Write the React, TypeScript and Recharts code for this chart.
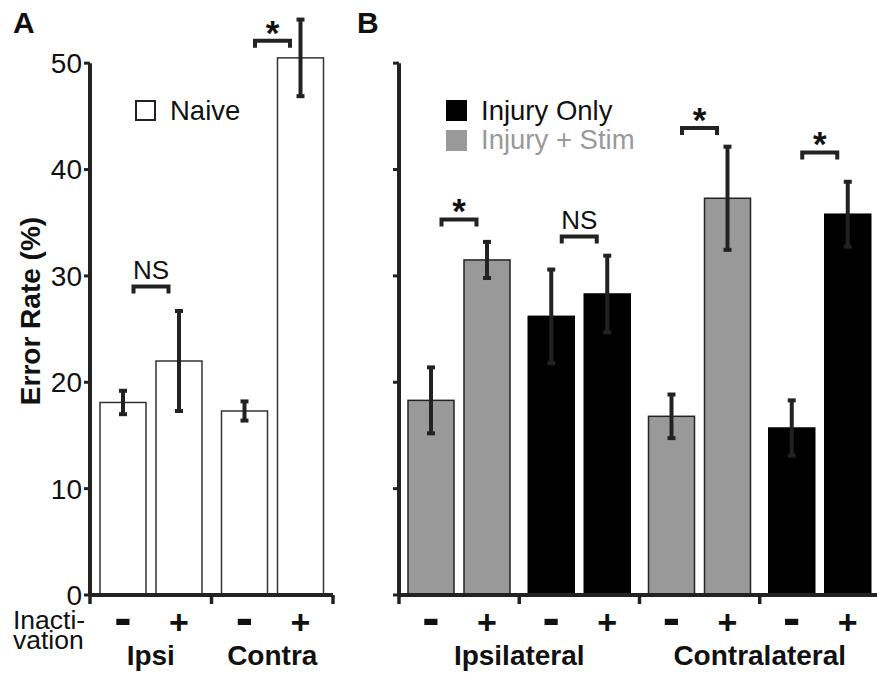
import React from "react";
import { BarChart, Bar, XAxis, YAxis, ErrorBar, ReferenceLine, Legend } from "recharts";

// ---------- data ----------
// Panel A (naive animals)
const groupsA = ["Ipsi", "Contra"];
const conditionA = ["naive", "naive"];
const minusA = [18.1, 17.3];
const minusErrA = [1.1, 0.9];
const plusA = [22.0, 50.5];
const plusErrA = [4.7, 3.6];
const sigA = ["NS", "*"];
const sigLevelA = [29.2, 52.3];
const sidesA = ["Ipsi", "Contra"];

// Panel B (injured animals)
const groupsB = ["Ipsi Stim", "Ipsi Only", "Contra Stim", "Contra Only"];
const conditionB = ["stim", "only", "stim", "only"];
const minusB = [18.3, 26.2, 16.8, 15.7];
const minusErrB = [3.1, 4.4, 2.05, 2.6];
const plusB = [31.5, 28.3, 37.3, 35.8];
const plusErrB = [1.7, 3.6, 4.85, 3.05];
const sigB = ["*", "NS", "*", "*"];
const sigLevelB = [35.5, 33.9, 44.1, 41.8];
const sidesB = ["Ipsilateral", "Contralateral"];

const inactivationSigns = ["-", "+"];
const yTicks = [0, 10, 20, 30, 40, 50];
const legendA = [{ label: "Naive", condition: "naive" }];
const legendB = [
  { label: "Injury Only", condition: "only" },
  { label: "Injury + Stim", condition: "stim" },
];

// ---------- styles ----------
const FONT = '"Liberation Sans", Arial, Helvetica, sans-serif';
const INK = "#222222";
const TEXT = "#111111";
const BAR_GAP = 10;
const BAR_SIZE = 46;

const conditionStyle: Record<string, any> = {
  naive: { fill: "#ffffff", stroke: "#333333", text: TEXT, legendBorder: true },
  only: { fill: "#000000", stroke: "#000000", text: TEXT, legendBorder: false },
  stim: { fill: "#999999", stroke: "#222222", text: "#999999", legendBorder: false },
};

function buildRows(groups, conditions, minus, minusErr, plus, plusErr, sig, sigLevel) {
  return groups.map((g, i) => ({
    group: g,
    pos: i + 0.5,
    condition: conditions[i],
    minus: minus[i],
    minusErr: minusErr[i],
    plus: plus[i],
    plusErr: plusErr[i],
    sig: sig[i],
    sigLevel: sigLevel[i],
  }));
}

const rowsA = buildRows(groupsA, conditionA, minusA, minusErrA, plusA, plusErrA, sigA, sigLevelA);
const rowsB = buildRows(groupsB, conditionB, minusB, minusErrB, plusB, plusErrB, sigB, sigLevelB);

function makeBarShape(valueKey: string, signIndex: number, drawSig: boolean) {
  return function BarShape(props: any) {
    const { x, y, width, height, payload } = props;
    if (x == null || payload == null) return null;
    const st = conditionStyle[payload.condition];
    const base = y + height;
    const value = payload[valueKey];
    const ppu = value ? height / value : 0;
    const cx = x + width / 2;
    const sign = inactivationSigns[signIndex];
    const signStyle = signIndex === 0 ? { fontSize: 52, dy: 40 } : { fontSize: 34, dy: 39 };
    let sigNode = null;
    if (drawSig) {
      const gx = x - BAR_GAP / 2;
      const half = 17.5;
      const top = base - payload.sigLevel * ppu;
      sigNode = (
        <g>
          <path
            d={`M${gx - half},${top + 9} L${gx - half},${top + 2} L${gx + half},${top + 2} L${gx + half},${top + 9}`}
            stroke={INK}
            strokeWidth={4}
            fill="none"
          />
          {payload.sig === "*" ? (
            <text x={gx} y={top + 6} textAnchor="middle" fontFamily={FONT} fontWeight="bold" fontSize={35} fill={TEXT}>
              *
            </text>
          ) : (
            <text x={gx} y={top - 5} textAnchor="middle" fontFamily={FONT} fontSize={26} fill={TEXT}>
              {payload.sig}
            </text>
          )}
        </g>
      );
    }
    return (
      <g>
        <rect x={x} y={y} width={width} height={height} fill={st.fill} stroke={st.stroke} strokeWidth={1.5} />
        <text x={cx} y={base + signStyle.dy} textAnchor="middle" fontFamily={FONT} fontWeight="bold" fontSize={signStyle.fontSize} fill={TEXT}>
          {sign}
        </text>
        {sigNode}
      </g>
    );
  };
}

function LegendBox({ items }: { items: any[] }) {
  return (
    <div style={{ fontFamily: FONT, fontSize: 27.5 }}>
      {items.map((it) => {
        const st = conditionStyle[it.condition];
        return (
          <div key={it.label} style={{ display: "flex", alignItems: "center", height: 29.5 }}>
            <span
              style={{
                display: "inline-block",
                width: 21,
                height: 21,
                boxSizing: "border-box",
                background: st.fill,
                border: st.legendBorder ? `2px solid ${INK}` : "none",
                marginRight: 14,
                flex: "none",
              }}
            />
            <span style={{ color: st.text, whiteSpace: "nowrap", lineHeight: "30px" }}>{it.label}</span>
          </div>
        );
      })}
    </div>
  );
}

const EmptyTick = () => <g />;

function Panel(props: any) {
  const { letter, letterX, rows, sides, groupsPerSide, legend, legendLeft, showTickLabels, showYLabel, width, marginLeft, marginRight } = props;
  const nGroups = rows.length;
  const tickSet = new Set<number>();
  for (let i = 0; i <= nGroups; i++) tickSet.add(i);
  sides.forEach((_, i) => tickSet.add((i + 0.5) * groupsPerSide));
  const numTicks = Array.from(tickSet).sort((a, b) => a - b);

  const SideTick = (tp: any) => {
    const { x, y, payload } = tp;
    const v = payload.value;
    const boundary = Math.abs(v - Math.round(v)) < 1e-9;
    const k = v / groupsPerSide - 0.5;
    const sideIdx = Math.abs(k - Math.round(k)) < 1e-9 ? Math.round(k) : -1;
    return (
      <g>
        {boundary && <line x1={x} y1={y} x2={x} y2={y + 9} stroke={INK} strokeWidth={3.5} />}
        {sideIdx >= 0 && sideIdx < sides.length && (
          <text x={x} y={y + 70} textAnchor="middle" fontFamily={FONT} fontWeight="bold" fontSize={28} fill={TEXT}>
            {sides[sideIdx]}
          </text>
        )}
      </g>
    );
  };

  const yLabel = () => (
    <g>
      <text x={letterX} y={33} fontFamily={FONT} fontWeight="bold" fontSize={30} fill={TEXT}>
        {letter}
      </text>
      {showYLabel && (
        <text
          x={40}
          y={311}
          transform="rotate(-90, 40, 311)"
          textAnchor="middle"
          fontFamily={FONT}
          fontWeight="bold"
          fontSize={28}
          fill={TEXT}
        >
          Error Rate (%)
        </text>
      )}
    </g>
  );

  const xLabel = () =>
    showYLabel ? (
      <g fontFamily={FONT} fontSize={26.5} fill={TEXT}>
        <text x={13} y={629}>Inacti-</text>
        <text x={13} y={649}>vation</text>
      </g>
    ) : null;

  return (
    <BarChart
      width={width}
      height={673}
      data={rows}
      margin={{ top: 10, right: marginRight, bottom: 0, left: marginLeft }}
      barSize={BAR_SIZE}
      barGap={BAR_GAP}
    >
      <XAxis xAxisId="cat" dataKey="group" type="category" hide height={0} />
      <XAxis
        xAxisId="num"
        dataKey="pos"
        type="number"
        domain={[0, nGroups]}
        ticks={numTicks}
        interval={0}
        height={78}
        tickSize={0}
        tickMargin={0}
        tickLine={false}
        axisLine={{ stroke: INK, strokeWidth: 4 }}
        tick={SideTick}
        label={xLabel}
      />
      <YAxis
        domain={[0, 55]}
        ticks={yTicks}
        interval={0}
        width={60}
        axisLine={false}
        tickLine={{ stroke: INK, strokeWidth: 3 }}
        tickSize={6}
        tick={showTickLabels ? { fontSize: 28, fill: TEXT, fontFamily: FONT } : EmptyTick}
        label={yLabel}
      />
      <ReferenceLine
        xAxisId="num"
        segment={[
          { x: 0, y: 0 },
          { x: 0, y: 50 },
        ]}
        stroke={INK}
        strokeWidth={4}
        ifOverflow="visible"
      />
      <Bar xAxisId="cat" dataKey="minus" isAnimationActive={false} shape={makeBarShape("minus", 0, false)}>
        <ErrorBar dataKey="minusErr" width={4} strokeWidth={4} stroke={INK} direction="y" />
      </Bar>
      <Bar xAxisId="cat" dataKey="plus" isAnimationActive={false} shape={makeBarShape("plus", 1, true)}>
        <ErrorBar dataKey="plusErr" width={4} strokeWidth={4} stroke={INK} direction="y" />
      </Bar>
      <Legend
        layout="vertical"
        align="center"
        verticalAlign="middle"
        wrapperStyle={{ position: "absolute", left: legendLeft, top: 96, width: "auto", height: "auto", margin: 0, padding: 0 }}
        content={() => <LegendBox items={legend} />}
      />
    </BarChart>
  );
}

export default function App() {
  return (
    <div style={{ position: "absolute", left: 0, top: 0, width: 877, height: 673, overflow: "hidden", background: "#fff" }}>
      <div style={{ position: "absolute", left: 0, top: 0 }}>
        <Panel
          letter="A"
          letterX={13}
          rows={rowsA}
          sides={sidesA}
          groupsPerSide={1}
          legend={legendA}
          legendLeft={135}
          showTickLabels={true}
          showYLabel={true}
          width={345}
          marginLeft={30}
          marginRight={12}
        />
      </div>
      <div style={{ position: "absolute", left: 339, top: 0 }}>
        <Panel
          letter="B"
          letterX={18}
          rows={rowsB}
          sides={sidesB}
          groupsPerSide={2}
          legend={legendB}
          legendLeft={107}
          showTickLabels={false}
          showYLabel={false}
          width={541}
          marginLeft={0}
          marginRight={0}
        />
      </div>
    </div>
  );
}
